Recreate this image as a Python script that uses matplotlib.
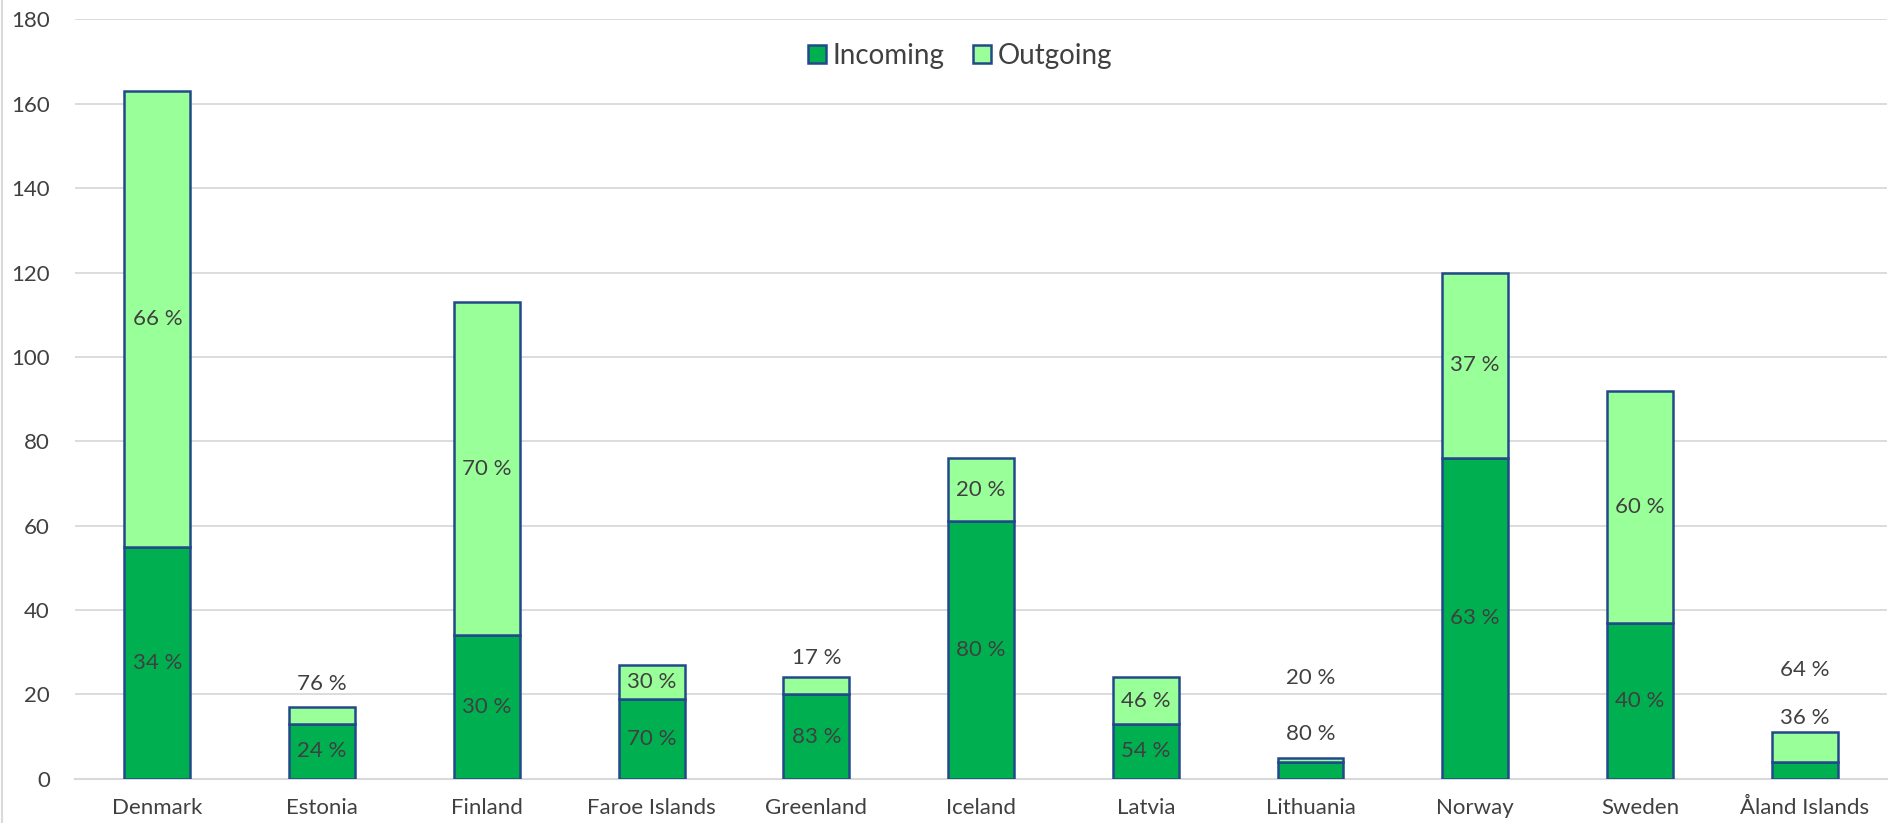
import matplotlib
matplotlib.use("Agg")
import matplotlib.pyplot as plt
from matplotlib.lines import Line2D
import numpy as np

categories = ["Denmark", "Estonia", "Finland", "Faroe Islands", "Greenland", "Iceland",
              "Latvia", "Lithuania", "Norway", "Sweden", "Åland Islands"]
incoming = [55, 13, 34, 19, 20, 61, 13, 4, 76, 37, 4]
outgoing = [108, 4, 79, 8, 4, 15, 11, 1, 44, 55, 7]
incoming_labels = ["34 %", "24 %", "30 %", "70 %", "83 %", "80 %", "54 %", "80 %", "63 %", "40 %", "36 %"]
outgoing_labels = ["66 %", "76 %", "70 %", "30 %", "17 %", "20 %", "46 %", "20 %", "37 %", "60 %", "64 %"]
# manually placed label heights (None = segment centre), as in the reference
incoming_label_y = [None, None, None, None, None, None, None, 10.6, None, None, 14.4]
outgoing_label_y = [None, 22.4, None, None, 28.7, None, None, 23.8, None, None, 25.8]
yticks = [0, 20, 40, 60, 80, 100, 120, 140, 160, 180]

plt.rcParams['font.family'] = ['Lato', 'DejaVu Sans']
text_color = "#404040"
c_in = "#00B050"
c_out = "#99FF99"
edge = "#22498A"

fig = plt.figure(figsize=(18.99, 8.23), dpi=100)
ax = fig.add_axes([0.0395, 0.0538, 0.9542, 0.9226])

x = np.arange(len(categories))
w = 0.4
ax.bar(x, incoming, w, color=c_in, edgecolor=edge, linewidth=1.8, label="Incoming", zorder=3)
ax.bar(x, outgoing, w, bottom=incoming, color=c_out, edgecolor=edge, linewidth=1.8, label="Outgoing", zorder=3)

for i in range(len(categories)):
    yi = incoming_label_y[i] if incoming_label_y[i] is not None else incoming[i] / 2
    yo = outgoing_label_y[i] if outgoing_label_y[i] is not None else incoming[i] + outgoing[i] / 2
    ax.text(x[i], yi, incoming_labels[i], ha="center", va="center", fontsize=16, color=text_color, zorder=4)
    ax.text(x[i], yo, outgoing_labels[i], ha="center", va="center", fontsize=16, color=text_color, zorder=4)

ax.set_xlim(-0.5, len(categories) - 0.5)
ax.set_ylim(0, 180)
ax.set_yticks(yticks)
ax.set_xticks(x)
ax.set_xticklabels(categories)
ax.tick_params(axis="both", length=0, labelsize=16, colors=text_color)
ax.tick_params(axis="y", pad=18)
ax.tick_params(axis="x", pad=14)
ax.grid(axis="y", color="#D9D9D9", linewidth=1.3, zorder=0)
for s in ["top", "right", "left"]:
    ax.spines[s].set_visible(False)
ax.spines["bottom"].set_color("#D9D9D9")
ax.spines["bottom"].set_linewidth(1.5)

leg = fig.legend(loc="center", bbox_to_anchor=(0.5055, 0.932), ncol=2, frameon=False,
                 fontsize=20, handlelength=0.65, handleheight=0.65, handletextpad=0.25,
                 columnspacing=1.0)
for t in leg.get_texts():
    t.set_color(text_color)

fig.add_artist(Line2D([0.0008, 0.0008], [0, 1], transform=fig.transFigure, color="#D9D9D9", linewidth=1.5))

fig.savefig("out.png", dpi=100)
